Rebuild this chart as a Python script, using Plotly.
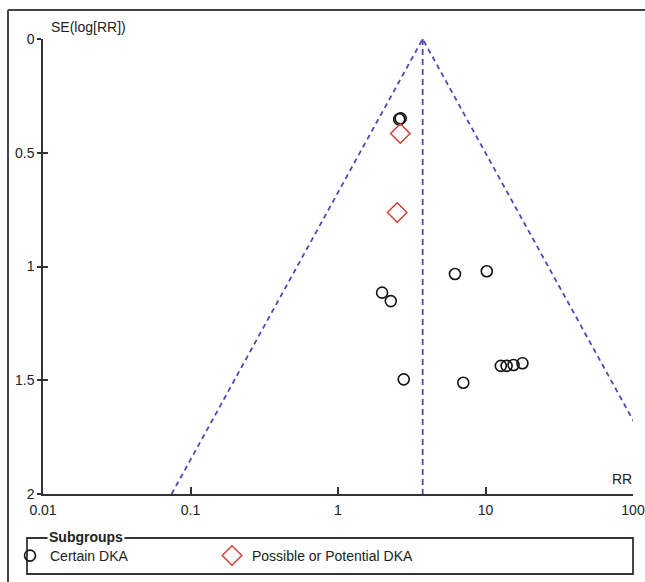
import plotly.graph_objects as go
import numpy as np

# ---- data ----
certain_rr = [2.60, 2.66, 6.21, 10.2, 1.99, 2.28, 2.79, 7.07, 12.7, 13.9, 15.5, 17.8]
certain_se = [0.353, 0.349, 1.033, 1.021, 1.115, 1.152, 1.496, 1.511, 1.437, 1.437, 1.433, 1.425]
possible_rr = [2.645, 2.52]
possible_se = [0.415, 0.763]
pooled_rr = 3.75
se_max = 2.0
x_tickvals = [0.01, 0.1, 1, 10, 100]
x_ticktext = ["0.01", "0.1", "1", "10", "100"]
y_tickvals = [0, 0.5, 1, 1.5, 2]
y_ticktext = ["0", "0.5", "1", "1.5", "2"]

FONT = "Liberation Sans, Arial, sans-serif"
AX = "#333333"
DASH = "#4b4bb5"
TXT = "#222222"

W, H = 645, 582
# plot area edges in pixels
PL, PR, PT, PB = 43, 633, 39, 494

def px(x):
    return x / W

def py(y):
    return (H - y) / H

fig = go.Figure()

# funnel lines from pooled estimate
z = 1.96
lo = np.exp(np.log(pooled_rr) - z * se_max)
hi = np.exp(np.log(pooled_rr) + z * se_max)
fig.add_trace(go.Scatter(x=[lo, pooled_rr, hi], y=[se_max, 0, se_max], mode="lines",
                         line=dict(color=DASH, width=1.8, dash="5px,4px"),
                         showlegend=False, hoverinfo="skip"))
fig.add_trace(go.Scatter(x=[pooled_rr, pooled_rr], y=[0, se_max], mode="lines",
                         line=dict(color=DASH, width=1.8, dash="6px,4px"),
                         showlegend=False, hoverinfo="skip"))

fig.add_trace(go.Scatter(x=certain_rr, y=certain_se, mode="markers", name="Certain DKA",
                         legend="legend",
                         marker=dict(symbol="circle-open", size=11, color="#111111",
                                     line=dict(width=1.6, color="#111111"))))
fig.add_trace(go.Scatter(x=possible_rr, y=possible_se, mode="markers",
                         name="Possible or Potential DKA", legend="legend2",
                         marker=dict(symbol="diamond-open", size=15, color="#d43a2f",
                                     line=dict(width=1.4, color="#d43a2f"))))
# dummy trace to activate yaxis2 (inside half of y ticks)
fig.add_trace(go.Scatter(x=[pooled_rr], y=[0], yaxis="y2", mode="markers",
                         marker=dict(opacity=0), showlegend=False, hoverinfo="skip"))

xdom = [px(PL), px(PR)]
ydom = [py(PB), py(PT)]

leg_common = dict(orientation="h", yanchor="top", y=py(540), xanchor="left",
                  bgcolor="rgba(0,0,0,0)", font=dict(size=14, family=FONT, color=TXT),
                  itemwidth=30, tracegroupgap=0)

fig.update_layout(
    width=W, height=H,
    margin=dict(l=0, r=0, t=0, b=0, autoexpand=False),
    paper_bgcolor="white", plot_bgcolor="white",
    font=dict(family=FONT, size=14, color=TXT),
    showlegend=True,
    legend=dict(x=px(10), **leg_common),
    legend2=dict(x=px(212), **leg_common),
    xaxis=dict(type="log", range=[-2, 2], domain=xdom, tickvals=x_tickvals, ticktext=x_ticktext,
               showgrid=False, zeroline=False, showline=True, linecolor=AX, linewidth=1.5,
               ticks="inside", ticklen=7, tickwidth=1.5, tickcolor=AX, automargin=False,
               ticklabeloverflow="allow", ticklabelstandoff=2,
               tickfont=dict(size=14, family=FONT, color=TXT)),
    yaxis=dict(range=[se_max, 0], domain=ydom, tickvals=y_tickvals, ticktext=y_ticktext,
               showgrid=False, zeroline=False, showline=True, linecolor=AX, linewidth=1.5,
               ticks="outside", ticklen=4, tickwidth=1.5, tickcolor=AX, automargin=False,
               ticklabeloverflow="allow",
               tickfont=dict(size=14, family=FONT, color=TXT)),
    yaxis2=dict(range=[se_max, 0], domain=ydom, overlaying="y", tickvals=y_tickvals,
                showticklabels=False, showgrid=False, zeroline=False, showline=False,
                ticks="inside", ticklen=5, tickwidth=1.5, tickcolor=AX),
)

shapes = []
# outer frame (top and left)
shapes.append(dict(type="line", xref="paper", yref="paper", x0=px(8), x1=px(646),
                   y0=py(10), y1=py(10), line=dict(color="#444444", width=2)))
shapes.append(dict(type="line", xref="paper", yref="paper", x0=px(8), x1=px(8),
                   y0=py(10), y1=py(583), line=dict(color="#444444", width=2)))
# legend box
shapes.append(dict(type="rect", xref="paper", yref="paper", x0=px(27), x1=px(633),
                   y0=py(574), y1=py(538), line=dict(color="#333333", width=1.8)))
fig.update_layout(shapes=shapes)

fig.add_annotation(text="SE(log[RR])", xref="paper", yref="paper", x=px(49), y=py(37),
                   xanchor="left", yanchor="bottom", showarrow=False,
                   font=dict(size=14, family=FONT, color=TXT))
fig.add_annotation(text="RR", xref="paper", yref="paper", x=px(634), y=py(489),
                   xanchor="right", yanchor="bottom", showarrow=False,
                   font=dict(size=14, family=FONT, color=TXT))
fig.add_annotation(text="<b>Subgroups</b>", xref="paper", yref="paper", x=px(47), y=py(537),
                   xanchor="left", yanchor="middle", showarrow=False, bgcolor="white",
                   borderpad=1, font=dict(size=14, family=FONT, color=TXT))

fig.write_html("out.html")
